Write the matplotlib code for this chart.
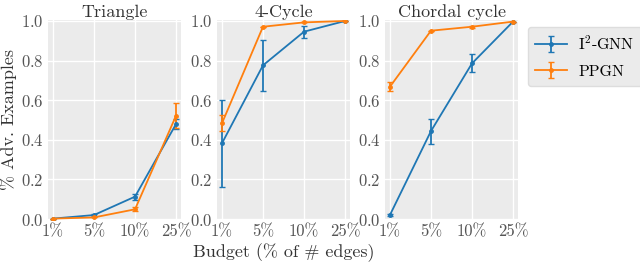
import matplotlib
matplotlib.use("Agg")
import matplotlib.pyplot as plt
import numpy as np

plt.rcParams['font.family'] = ['cmr10', 'DejaVu Serif']
plt.rcParams['mathtext.fontset'] = 'cm'
plt.rcParams['axes.formatter.use_mathtext'] = True

budgets = ['1%', '5%', '10%', '25%']
titles = ['Triangle', '4-Cycle', 'Chordal cycle']

# I2-GNN
i2_mean = [[0.002, 0.02, 0.113, 0.48],
           [0.382, 0.776, 0.946, 1.0],
           [0.02, 0.444, 0.786, 0.997]]
i2_err = [[0.0, 0.003, 0.015, 0.025],
          [0.22, 0.13, 0.03, 0.0],
          [0.005, 0.063, 0.045, 0.0]]
# PPGN
pp_mean = [[0.002, 0.008, 0.049, 0.522],
           [0.483, 0.971, 0.993, 1.0],
           [0.668, 0.951, 0.971, 0.997]]
pp_err = [[0.0, 0.0, 0.01, 0.063],
          [0.04, 0.0, 0.0, 0.0],
          [0.022, 0.0, 0.005, 0.0]]

fig = plt.figure(figsize=(6.4, 2.65), dpi=100)
lefts = [48, 217, 385]
w = 133
axes = []
x = np.arange(len(budgets))
for k in range(3):
    ax = fig.add_axes([lefts[k] / 640, 45 / 265, w / 640, 200 / 265])
    ax.set_facecolor('#EBEBEB')
    for s in ax.spines.values():
        s.set_visible(False)
    ax.grid(True, color='white', linewidth=1.0)
    ax.set_axisbelow(True)
    ax.errorbar(x, i2_mean[k], yerr=i2_err[k], color='#1f77b4', marker='o',
                markersize=2.5, linewidth=1.3, capsize=2, label='I$^2$-GNN')
    ax.errorbar(x, pp_mean[k], yerr=pp_err[k], color='#ff7f0e', marker='o',
                markersize=2.5, linewidth=1.3, capsize=2, label='PPGN')
    ax.set_xticks(x)
    ax.set_xticklabels(budgets)
    ax.set_xlim(-0.12, 3.12)
    ax.set_ylim(-0.005, 1.005)
    ax.set_yticks([0, 0.2, 0.4, 0.6, 0.8, 1.0])
    ax.tick_params(length=0, labelsize=12, labelcolor='#555555', pad=3)
    ax.set_title(titles[k], fontsize=13, color='#333333', pad=2)
    axes.append(ax)

axes[0].set_ylabel('% Adv. Examples', fontsize=13, color='#333333', labelpad=3)
axes[1].set_xlabel('Budget (% of # edges)', fontsize=13, color='#333333', labelpad=3)
leg = axes[2].legend(loc='upper left', bbox_to_anchor=(1.075, 0.965), borderaxespad=0,
                     fontsize=11.5, facecolor='#EBEBEB', edgecolor='#DDDDDD',
                     framealpha=1, borderpad=0.45, handletextpad=0.7, labelspacing=0.75)

fig.savefig('out.png', dpi=100)
